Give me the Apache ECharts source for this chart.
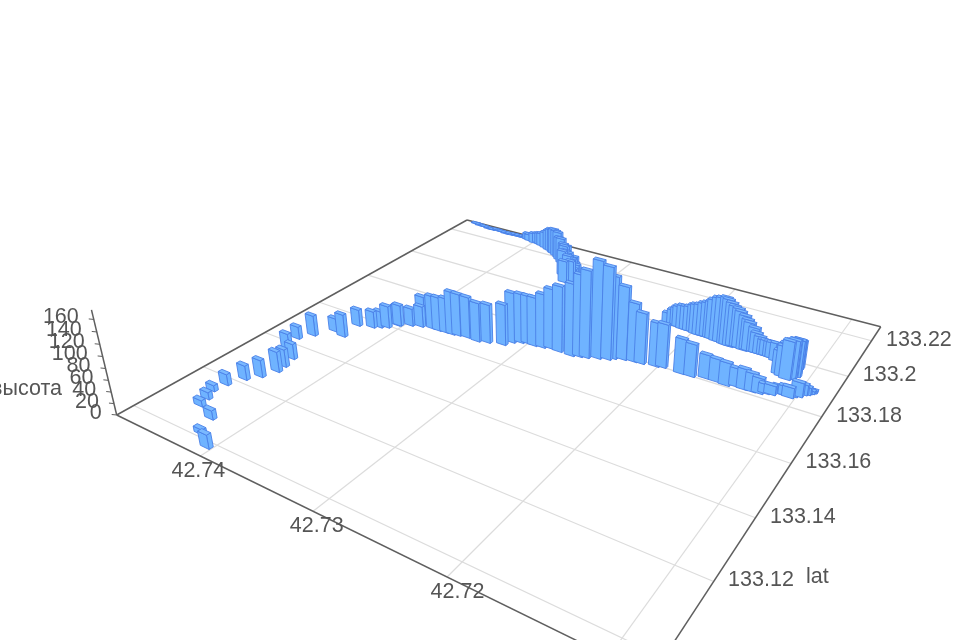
<!DOCTYPE html><html><head><meta charset="utf-8"><script src="https://cdn.jsdelivr.net/npm/echarts@6/dist/echarts.min.js"></script>
<style>html,body{margin:0;background:#fff}#m{width:960px;height:640px;filter:blur(.65px)}</style></head><body><div id="m"></div><script>
const lonTicks=[42.74,42.73,42.72,42.71];
const latTicks=[133.22,133.2,133.18,133.16,133.14,133.12,133.1];
const altTicks=[0,20,40,60,80,100,120,140,160];
const lonRange=[42.7486,42.7077];
const latRange=[133.0955,133.2286];
const altMax=175;
const lonValues=[42.7405,42.7421,42.7429,42.7448,42.7451,42.7456,42.7454,42.7448,42.7441,42.7436,42.7437,42.7440,42.7452,42.7459,42.7452,42.7442,42.7431,42.7433,42.7421,42.7416,42.7411,42.7406,42.7405,42.7397,42.7389,42.7391,42.7379,42.7373,42.7366,42.7360,42.7355,42.7347,42.7337,42.7329,42.7317,42.7313,42.7307,42.7302,42.7296,42.7289,42.7283,42.7275,42.7264,42.7258,42.7253,42.7245,42.7238,42.7235,42.7228,42.7220,42.7214,42.7203,42.7198,42.7183,42.7175,42.7165,42.7157,42.7149,42.7142,42.7136,42.7130,42.7125,42.7121,42.7113,42.7103,42.7223,42.7216,42.7210,42.7204,42.7198,42.7192,42.7186,42.7180,42.7173,42.7168,42.7163,42.7157,42.7153,42.7147,42.7141,42.7136,42.7130,42.7119,42.7115,42.7112,42.7110,42.7112,42.7115,42.7117,42.7120,42.7100,42.7097,42.7095,42.7093,42.7468,42.7456,42.7446,42.7435,42.7424,42.7415,42.7409,42.7397,42.7390,42.7380,42.7373,42.7367,42.7360,42.7350,42.7343,42.7337,42.7332,42.7332,42.7334,42.7336,42.7339,42.7344,
42.7219,42.7214,42.7207,42.7201,42.7195,42.7189,42.7184,42.7177,42.7171,42.7166,42.7161,42.7155,42.7149,42.7144,42.7139,42.7134,42.7122,42.7118,42.7114,42.7112,42.7111,42.7112,42.7116,42.7118,42.7121,42.7123,42.7117,42.7108,42.7100,42.7098,42.7096,42.7094,42.7105,42.7406,42.7400,42.7393,42.7385,42.7377,42.7371,42.7363,42.7355,42.7347,42.7340,42.7334,42.7331,42.7332,42.7329,42.7333,42.7342,42.7341,42.7352,42.7463,42.7452,42.7441,42.7430,42.7420,42.7411,42.7474];
const latValues=[133.0986,133.1013,133.1064,133.1086,133.1114,133.1144,133.1179,133.1219,133.1248,133.1286,133.1312,133.1349,133.1371,133.1428,133.1462,133.1508,133.1499,133.1563,133.1576,133.1587,133.1597,133.1620,133.1622,133.1638,133.1648,133.1663,133.1656,133.1656,133.1658,133.1659,133.1663,133.1667,133.1665,133.1674,133.1686,133.1708,133.1719,133.1725,133.1724,133.1728,133.1735,133.1733,133.1732,133.1739,133.1744,133.1756,133.1765,133.1776,133.1785,133.1790,133.1792,133.1799,133.1804,133.1802,133.1803,133.1814,133.1814,133.1811,133.1819,133.1817,133.1818,133.1820,133.1828,133.1843,133.1850,133.2007,133.2007,133.2002,133.2001,133.1996,133.1996,133.1995,133.1990,133.1986,133.1984,133.1989,133.1985,133.1988,133.1988,133.1988,133.1987,133.1978,133.1918,133.1912,133.1922,133.1937,133.1966,133.1970,133.1955,133.1939,133.1876,133.1877,133.1882,133.1890,133.2275,133.2269,133.2271,133.2266,133.2269,133.2269,133.2265,133.2260,133.2249,133.2234,133.2222,133.2210,133.2191,133.2162,133.2136,133.2116,133.2104,133.2120,133.2085,133.2135,133.2169,133.2158,
133.2008,133.2006,133.2002,133.2002,133.1995,133.1996,133.1994,133.1990,133.1985,133.1988,133.1989,133.1989,133.1989,133.1988,133.1988,133.1986,133.1924,133.1921,133.1919,133.1929,133.1947,133.1977,133.1996,133.1985,133.1970,133.1954,133.1831,133.1844,133.1856,133.1870,133.1875,133.1884,133.1841,133.2261,133.2255,133.2253,133.2242,133.2231,133.2219,133.2201,133.2176,133.2151,133.2135,133.2124,133.2130,133.2150,133.2087,133.2071,133.2179,133.2108,133.2190,133.2275,133.2269,133.2271,133.2267,133.2269,133.2268,133.2281];
const altValues=[24,9,16,11,13,11,20,26,31,37,32,28,32,23,38,25,42,31,31,31,41,37,39,33,39,52,62,63,65,80,78,76,72,71,75,92,90,88,89,98,109,119,130,147,156,174,165,147,131,105,91,78,78,62,58,42,40,40,32,36,32,27,16,13,14,21,35,44,46,55,61,68,80,86,80,71,63,52,37,28,28,32,54,68,68,65,53,49,49,49,11,9,7,4,2,2,2,2,2,2,13,20,26,41,49,53,47,46,42,40,31,15,35,29,11,25,
29,39,44,50,57,64,73,82,84,74,67,56,45,32,28,28,42,58,66,66,61,49,39,40,42,40,16,16,25,18,13,5,18,13,20,24,33,46,52,54,51,46,40,33,21,8,41,43,19,50,34,1,1,1,2,2,4,1];

const H={a:336.9,b:565.1,c:116.7,d:56.7,e:-93.8,f:415,g:-.30326,h:.45989,vx:542,vy:2186,r:-.00032};
const lm=echarts.number.linearMap;
const U=l=>lm(l,lonRange,[0,1]);
const V=l=>lm(l,latRange,[0,1]);
function pr(u,v,z){const rz=H.r*z,w=H.g*u+H.h*v+1+rz;
  return [(H.a*u+H.b*v+H.c+H.vx*rz)/w,(H.d*u+H.e*v+H.f+H.vy*rz)/w];}
const depth=(lon,lat)=>H.g*U(lon)+H.h*V(lat);
const bars=lonValues.map((l,i)=>[l,latValues[i],altValues[i]]).sort((p,q)=>depth(q[0],q[1])-depth(p[0],p[1]));
const HU=.0105, HV=.0042, barFill='#6fb3ff', barEdge='#4a80e8', barTop='#7ab9ff';
const poly=(pts,fill)=>({type:'polygon',shape:{points:pts},style:{fill,stroke:barEdge,lineWidth:.9},silent:true});
function renderBar(p,api){const u=U(api.value(0)),v=V(api.value(1)),z=api.value(2);
  const u0=u-HU,u1=u+HU,v0=v-HV,v1=v+HV;
  return {type:'group',children:[
    poly([pr(u1,v0,0),pr(u1,v1,0),pr(u1,v1,z),pr(u1,v0,z)],barFill),
    poly([pr(u0,v0,0),pr(u1,v0,0),pr(u1,v0,z),pr(u0,v0,z)],barFill),
    poly([pr(u0,v0,z),pr(u1,v0,z),pr(u1,v1,z),pr(u0,v1,z)],barTop)]};}
const seg=(a,b,color,width)=>({type:'line',shape:{x1:a[0],y1:a[1],x2:b[0],y2:b[1]},style:{stroke:color,lineWidth:width},silent:true});
const txt=(s,x,y,align)=>({type:'text',silent:true,style:{text:s,x,y,font:'21.5px "Liberation Sans"',fill:'#555',align,verticalAlign:'middle'}});
const gridC='#dcdcdc', axisC='#5f5f5f';
const noAxis={coordinateSystem:'none',silent:true,animation:false,clip:false};
const series=[
 {type:'custom',...noAxis,data:lonTicks,z:1,renderItem:(p,api)=>{const u=U(api.value(0));return seg(pr(u,0,0),pr(u,1,0),gridC,1.2);}},
 {type:'custom',...noAxis,data:latTicks,z:1,renderItem:(p,api)=>{const v=V(api.value(0));return seg(pr(0,v,0),pr(1,v,0),gridC,1.2);}},
 {type:'custom',...noAxis,data:[0],z:2,renderItem:()=>({type:'group',children:[
    seg(pr(0,0,0),pr(1,0,0),axisC,1.5),seg(pr(1,0,0),pr(1,1,0),axisC,1.5),
    seg(pr(1,1,0),pr(0,1,0),axisC,1.5),seg(pr(0,1,0),pr(0,0,0),axisC,1.5),
    seg(pr(0,0,0),pr(0,0,altMax),axisC,1.5)]})},
 {type:'custom',...noAxis,data:altTicks,z:2,renderItem:(p,api)=>{const a=pr(0,0,api.value(0));
    return {type:'group',children:[seg(a,[a[0]-5,a[1]-.5],axisC,1),txt(String(api.value(0)),a[0]-15,a[1]-2,'right')]};}},
 {type:'custom',...noAxis,data:bars,z:3,renderItem:renderBar},
 {type:'custom',...noAxis,data:lonTicks,z:4,renderItem:(p,api)=>{const a=pr(U(api.value(0)),0,0);
    return txt(String(api.value(0)),a[0]+(a[0]-240)*.05,a[1]+15,'center');}},
 {type:'custom',...noAxis,data:latTicks,z:4,renderItem:(p,api)=>{const a=pr(1,V(api.value(0)),0);
    return txt(String(api.value(0)),a[0]+14.5,a[1]-1,'left');}},
 {type:'custom',...noAxis,data:[0],z:4,renderItem:()=>({type:'group',children:[
    txt('lat',806,577,'left'),txt('высота',62,389,'right')]})}
];
echarts.init(document.getElementById('m')).setOption({backgroundColor:'#fff',animation:false,series});
</script></body></html>
